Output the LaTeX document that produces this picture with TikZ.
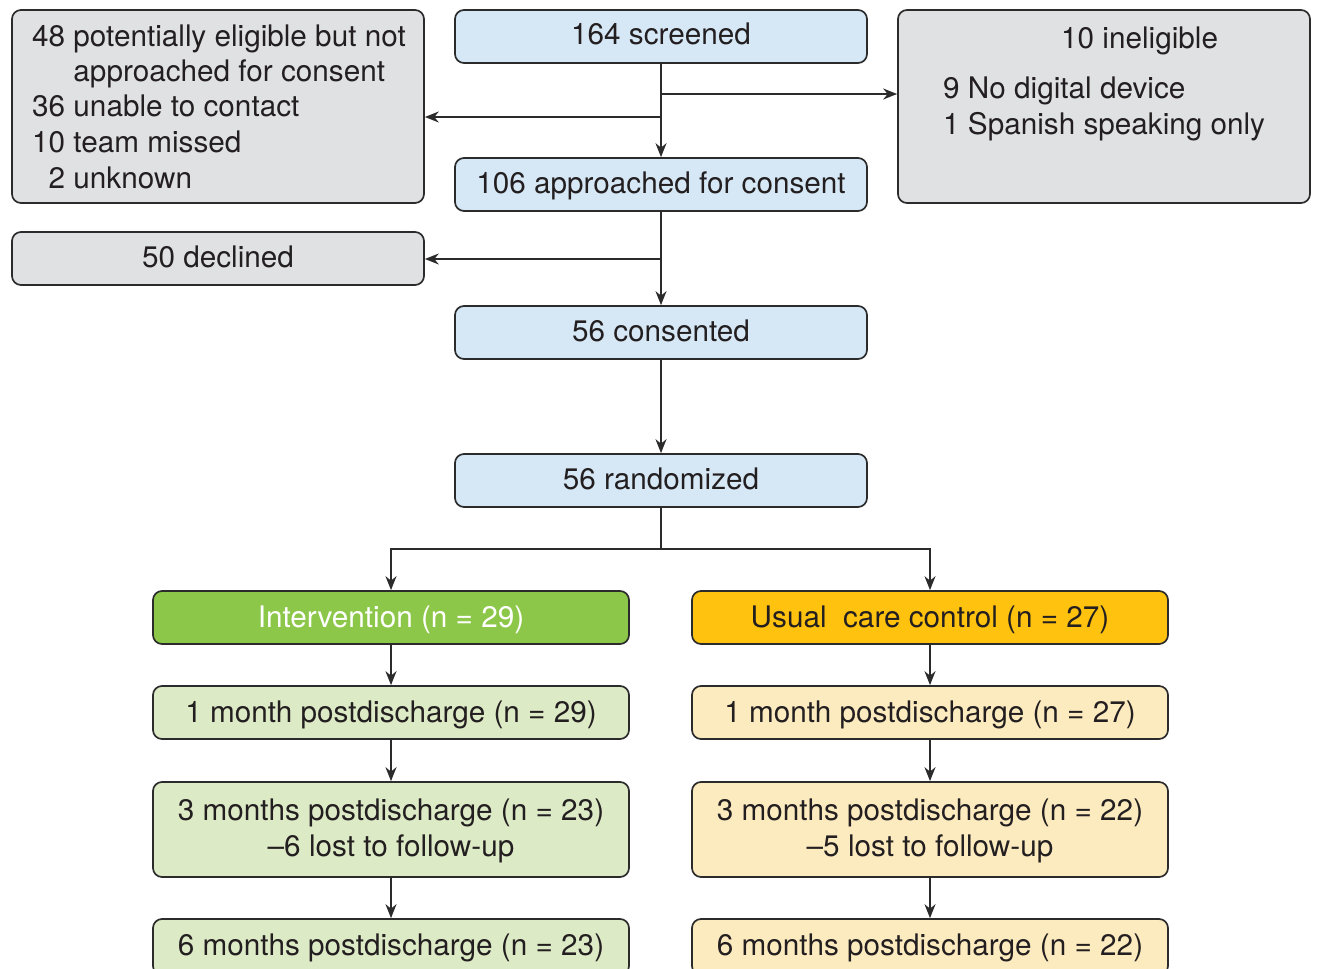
\documentclass[tikz,border=0pt]{standalone}
\usepackage{fontspec}
\setmainfont{TeX Gyre Heros}
\usetikzlibrary{arrows.meta}
\definecolor{lineC}{HTML}{2B2B2B}
\definecolor{txtC}{HTML}{231F20}
\definecolor{blueF}{HTML}{D6E8F6}
\definecolor{grayF}{HTML}{E0E1E3}
\definecolor{greenF}{HTML}{8DC74A}
\definecolor{orangeF}{HTML}{FFC20E}
\definecolor{lgreenF}{HTML}{DDEAC6}
\definecolor{lyellowF}{HTML}{FDEBC0}
\begin{document}
\begin{tikzpicture}[x=1pt,y=-1pt,
  box/.style={draw=lineC, line width=1.7pt, rounded corners=9pt, inner sep=0pt},
  lbl/.style={anchor=base, inner sep=0pt, text=txtC, font=\fontsize{29.7}{35.5}\selectfont},
  lblw/.style={lbl, anchor=base west},
  arr/.style={draw=lineC, line width=1.7pt, -{Stealth[length=14pt,width=11pt]}},
  ln/.style={draw=lineC, line width=1.7pt}]
\useasboundingbox (0,0) rectangle (1318,969);
% boxes
\node[box, fill=grayF, minimum width=412pt, minimum height=193pt] (nap) at (218,106.5) {};
\node[box, fill=blueF, minimum width=412pt, minimum height=53pt] (scr) at (661,36.5) {};
\node[box, fill=grayF, minimum width=412pt, minimum height=193pt] (inel) at (1104,106.5) {};
\node[box, fill=blueF, minimum width=412pt, minimum height=53pt] (appr) at (661,184.5) {};
\node[box, fill=grayF, minimum width=412pt, minimum height=53pt] (decl) at (218,258.5) {};
\node[box, fill=blueF, minimum width=412pt, minimum height=53pt] (cons) at (661,332.5) {};
\node[box, fill=blueF, minimum width=412pt, minimum height=53pt] (rand) at (661,480.5) {};
\node[box, fill=greenF, minimum width=476pt, minimum height=53pt] (intv) at (391,617.5) {};
\node[box, fill=orangeF, minimum width=476pt, minimum height=53pt] (usual) at (930,617.5) {};
\node[box, fill=lgreenF, minimum width=476pt, minimum height=53pt] (i1) at (391,712.5) {};
\node[box, fill=lyellowF, minimum width=476pt, minimum height=53pt] (u1) at (930,712.5) {};
\node[box, fill=lgreenF, minimum width=476pt, minimum height=95pt] (i3) at (391,829.5) {};
\node[box, fill=lyellowF, minimum width=476pt, minimum height=95pt] (u3) at (930,829.5) {};
\node[box, fill=lgreenF, minimum width=476pt, minimum height=56pt] (i6) at (391,947) {};
\node[box, fill=lyellowF, minimum width=476pt, minimum height=56pt] (u6) at (930,947) {};
% texts
\node[lblw] (t1) at (32,46) {48 potentially eligible but not};
\node[lblw] (t2) at (32,81) {\hphantom{48 }approached for consent};
\node[lblw] (t3) at (32,116) {36 unable to contact};
\node[lblw] (t4) at (32,152) {10 team missed};
\node[lblw] (t5) at (32,188) {\hphantom{1}2 unknown};
\node[lbl] (ts) at (661,45) {164 screened};
\node[lblw] (ti1) at (1061,48) {10 ineligible};
\node[lblw] (ti2) at (943,98) {9 No digital device};
\node[lblw] (ti3) at (943,134) {1 Spanish speaking only};
\node[lbl] (ta) at (661,193) {106 approached for consent};
\node[lbl] (td) at (218,267) {50 declined};
\node[lbl] (tc) at (661,341) {56 consented};
\node[lbl] (tr) at (661,489) {56 randomized};
\node[lbl, text=white] (tiv) at (391,627) {Intervention (n = 29)};
\node[lbl] (tuc) at (930,627) {Usual\ \ care control (n = 27)};
\node[lbl] (ti1m) at (391,722) {1 month postdischarge (n = 29)};
\node[lbl] (tu1m) at (930,722) {1 month postdischarge (n = 27)};
\node[lbl] (ti3a) at (391,820) {3 months postdischarge (n = 23)};
\node[lbl] (ti3b) at (391,856) {–6 lost to follow-up};
\node[lbl] (tu3a) at (930,820) {3 months postdischarge (n = 22)};
\node[lbl] (tu3b) at (930,856) {–5 lost to follow-up};
\node[lbl] (ti6) at (391,955) {6 months postdischarge (n = 23)};
\node[lbl] (tu6) at (930,955) {6 months postdischarge (n = 22)};
% connectors
\coordinate (j1) at (661,94);
\coordinate (j2) at (661,117);
\coordinate (j3) at (661,259);
\coordinate (j4) at (661,549);
\draw[arr] (scr.south) -- (appr.north);
\draw[arr] (j1) -- (j1 -| inel.west);
\draw[arr] (j2) -- (j2 -| nap.east);
\draw[arr] (appr.south) -- (cons.north);
\draw[arr] (j3) -- (j3 -| decl.east);
\draw[arr] (cons.south) -- (rand.north);
\draw[ln] (rand.south) -- (j4);
\draw[arr] (j4) -| (intv.north);
\draw[arr] (j4) -| (usual.north);
\draw[arr] (intv.south) -- (i1.north);
\draw[arr] (i1.south) -- (i3.north);
\draw[arr] (i3.south) -- (i6.north);
\draw[arr] (usual.south) -- (u1.north);
\draw[arr] (u1.south) -- (u3.north);
\draw[arr] (u3.south) -- (u6.north);
\end{tikzpicture}
\end{document}
